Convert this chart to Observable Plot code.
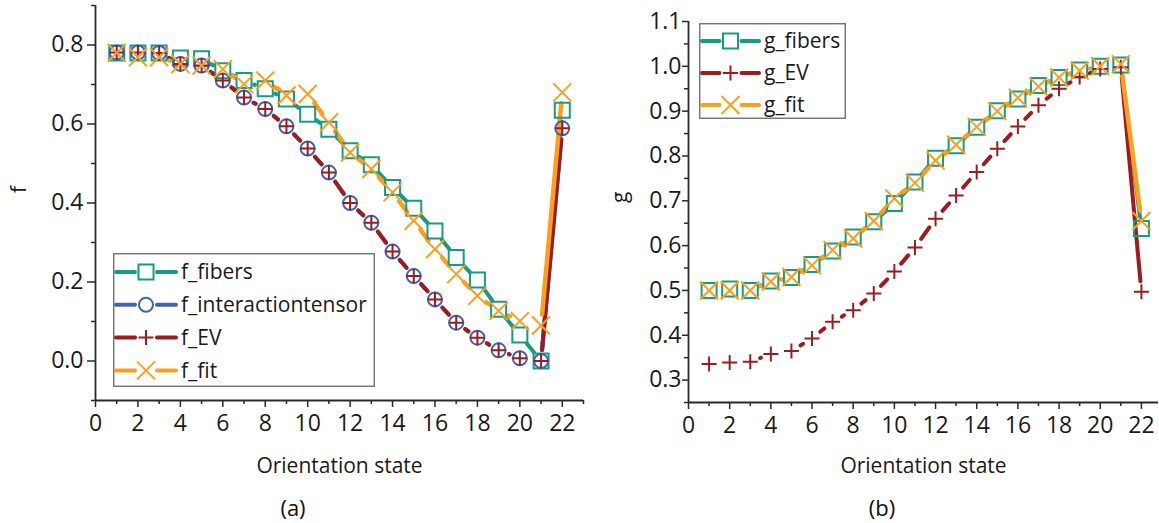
<!DOCTYPE html>
<html><head><meta charset="utf-8">
<script src="https://cdn.jsdelivr.net/npm/d3@7"></script>
<script src="https://cdn.jsdelivr.net/npm/@observablehq/plot@0.6"></script>
<style>
body{margin:0;background:#fff;font-family:"Open Sans",sans-serif;}
#wrap{position:relative;width:1159px;height:523px;overflow:hidden;background:#fff;}
.panel{position:absolute;top:0;}
.panel svg text{font-size:23px !important;font-family:"Open Sans",sans-serif !important;}
.panel svg g.ttl text{font-size:21px !important;}
.cap{position:absolute;font-size:22px;color:#111;transform:translate(-50%,-50%);line-height:1;}
.legend{position:absolute;}
</style></head><body><div id="wrap"></div>
<script>
// ---- data ----
const states = [1,2,3,4,5,6,7,8,9,10,11,12,13,14,15,16,17,18,19,20,21,22];
const f_fibers = [0.780,0.780,0.780,0.767,0.765,0.735,0.710,0.689,0.663,0.625,0.587,0.532,0.497,0.439,0.387,0.329,0.262,0.205,0.131,0.066,0.000,0.635];
const f_interactiontensor = [0.781,0.781,0.780,0.752,0.748,0.710,0.667,0.638,0.594,0.538,0.477,0.400,0.350,0.277,0.215,0.156,0.097,0.059,0.027,0.007,0.000,0.589];
const f_EV = [0.781,0.781,0.780,0.752,0.748,0.710,0.667,0.638,0.594,0.538,0.477,0.400,0.350,0.277,0.215,0.156,0.097,0.059,0.027,0.007,0.000,0.589];
const f_fit = [0.780,0.769,0.769,0.752,0.748,0.739,0.701,0.710,0.672,0.676,0.604,0.528,0.486,0.427,0.355,0.283,0.220,0.165,0.127,0.101,0.090,0.680];
const g_fibers = [0.500,0.503,0.500,0.521,0.529,0.558,0.588,0.619,0.653,0.694,0.742,0.795,0.823,0.864,0.901,0.927,0.957,0.975,0.992,1.000,1.003,0.638];
const g_EV = [0.336,0.339,0.341,0.358,0.365,0.393,0.430,0.456,0.493,0.542,0.596,0.660,0.712,0.764,0.816,0.866,0.913,0.950,0.976,0.994,0.998,0.497];
const g_fit = [0.500,0.500,0.500,0.520,0.530,0.556,0.590,0.616,0.655,0.705,0.740,0.790,0.825,0.865,0.900,0.930,0.955,0.975,0.990,1.000,1.005,0.655];
const xTicks = [0,2,4,6,8,10,12,14,16,18,20,22];
const xMinorL = [1,3,5,7,9,11,13,15,17,19,21,23];
const xMinorR = [1,3,5,7,9,11,13,15,17,19,21];
const fTicks = [0.0,0.2,0.4,0.6,0.8];
const fMinor = [-0.1,0.1,0.3,0.5,0.7,0.9];
const gTicks = [0.3,0.4,0.5,0.6,0.7,0.8,0.9,1.0,1.1];
const gMinor = [0.25,0.35,0.45,0.55,0.65,0.75,0.85,0.95,1.05];
const xTitle = "Orientation state";
const leftSeries = ["f_fibers","f_interactiontensor","f_EV","f_fit"];
const rightSeries = ["g_fibers","g_EV","g_fit"];

const C = {teal:"#179c83", blue:"#4463ae", red:"#9c1c21", orange:"#fd9e1c"};
const AX = "#2a2a2a";
const TXT = "#1a1a1a";

// ---- symbols ----
const SQ = {draw(c){ c.rect(-7.5,-7.5,15,15); }};
const CI = {draw(c){ c.moveTo(7,0); c.arc(0,0,7,0,2*Math.PI); }};
const PL = {draw(c){ c.moveTo(-7.5,0); c.lineTo(7.5,0); c.moveTo(0,-7.5); c.lineTo(0,7.5); }};
const TI = {draw(c){ c.moveTo(-9,-9); c.lineTo(9,9); c.moveTo(-9,9); c.lineTo(9,-9); }};

function segs(ys){ const o=[]; for(let i=0;i<states.length-1;i++) o.push({x1:states[i],y1:ys[i],x2:states[i+1],y2:ys[i+1]}); return o; }
function pts(ys){ return states.map((x,i)=>({x, y:ys[i]})); }
function line(ys,color,inset,w=4){ return Plot.arrow(segs(ys),{x1:"x1",y1:"y1",x2:"x2",y2:"y2",stroke:color,strokeWidth:w,headLength:0,inset,strokeLinecap:"round"}); }
function marks(ys,color,sym){ return Plot.dot(pts(ys),{x:"x",y:"y",symbol:()=>sym,stroke:color,fill:"none",strokeWidth:2}); }

function axes(o){
  return [
    Plot.axisX({ticks:xTicks,tickSize:7,tickPadding:7,stroke:AX,strokeWidth:1.5,fill:TXT,label:null}),
    Plot.axisX({ticks:o.xMinor,tickSize:4,text:null,label:null,stroke:AX,strokeWidth:1.5}),
    Plot.axisY({ticks:o.yTicks,tickSize:o.ytick,tickPadding:o.ypad,tickFormat:d3.format(".1f"),stroke:AX,strokeWidth:1.5,fill:TXT,label:null}),
    Plot.axisY({ticks:o.yMinor,tickSize:4,text:null,label:null,stroke:AX,strokeWidth:1.5}),
    Plot.ruleX([o.x0],{stroke:AX,strokeWidth:1.8}),
    Plot.ruleY([o.y0],{stroke:AX,strokeWidth:1.8}),
    Plot.text([o.ylabel],{text:d=>d,frameAnchor:"left",dx:o.ylx,dy:o.yly,rotate:-90,fill:TXT,className:"ttl"}),
    Plot.text([xTitle],{text:d=>d,frameAnchor:"bottom",dy:o.xly,fill:TXT,className:"ttl"})
  ];
}

const style = {fontFamily:"'Open Sans', sans-serif",fontSize:"22px",color:TXT,background:"transparent",overflow:"visible"};

const left = Plot.plot({
  width:600,height:523,marginLeft:95,marginRight:17,marginTop:5,marginBottom:123,
  x:{domain:[0,23]}, y:{domain:[-0.1,0.9]}, style,
  marks:[
    ...axes({x0:0,y0:-0.1,xMinor:xMinorL,yTicks:fTicks,yMinor:fMinor,ytick:8,ypad:4,ylabel:"f",ylx:-76,yly:-10,xly:72}),
    line(f_fibers,C.teal,11),
    line(f_interactiontensor,C.blue,11),
    line(f_EV,C.red,11),
    line(f_fit,C.orange,11,4.5),
    marks(f_fibers,C.teal,SQ),
    marks(f_interactiontensor,C.blue,CI),
    marks(f_EV,C.red,PL),
    marks(f_fit,C.orange,TI)
  ]
});
const right = Plot.plot({
  width:559,height:523,marginLeft:88,marginRight:1,marginTop:21,marginBottom:121,
  x:{domain:[0,22.83]}, y:{domain:[0.25,1.1]}, style,
  marks:[
    ...axes({x0:0,y0:0.25,xMinor:xMinorR,yTicks:gTicks,yMinor:gMinor,ytick:6,ypad:1,ylabel:"g",ylx:-68,yly:-9,xly:70}),
    line(g_fibers,C.teal,10.5),
    line(g_EV,C.red,10.5),
    line(g_fit,C.orange,10.5,4.5),
    marks(g_fibers,C.teal,SQ),
    marks(g_EV,C.red,PL),
    marks(g_fit,C.orange,TI)
  ]
});

const wrap = document.getElementById("wrap");
function panel(node,x){ const d=document.createElement("div"); d.className="panel"; d.style.left=x+"px"; d.appendChild(node); wrap.appendChild(d); }
panel(left,0); panel(right,600);

function caption(t,x,y){ const d=document.createElement("div"); d.className="cap"; d.textContent=t; d.style.left=x+"px"; d.style.top=y+"px"; wrap.appendChild(d); }
caption("(a)",293,507); caption("(b)",882,507);

// ---- legends ----
const legendSym = {f_fibers:[C.teal,SQ], f_interactiontensor:[C.blue,CI], f_EV:[C.red,PL], f_fit:[C.orange,TI],
                   g_fibers:[C.teal,SQ], g_EV:[C.red,PL], g_fit:[C.orange,TI]};
function legend(names,x,y,w,h,row0,step,lineW){
  const svg = d3.create("svg").attr("width",w).attr("height",h).attr("class","legend")
    .style("left",x+"px").style("top",y+"px").style("font-family","'Open Sans', sans-serif");
  svg.append("rect").attr("x",0.75).attr("y",0.75).attr("width",w-1.5).attr("height",h-1.5).attr("fill","#fff").attr("stroke","#666").attr("stroke-width",1.3);
  names.forEach((n,i)=>{
    const [col,sym] = legendSym[n];
    const cy = row0 + i*step, cx = lineW/2 + 1;
    const g = svg.append("g");
    g.append("line").attr("x1",3).attr("x2",cx-11).attr("y1",cy).attr("y2",cy).attr("stroke",col).attr("stroke-width",4).attr("stroke-linecap","round");
    g.append("line").attr("x1",cx+11).attr("x2",lineW-1).attr("y1",cy).attr("y2",cy).attr("stroke",col).attr("stroke-width",4).attr("stroke-linecap","round");
    const p = d3.path(); sym.draw(p);
    g.append("path").attr("d",p.toString()).attr("transform",`translate(${cx},${cy})`).attr("fill","none").attr("stroke",col).attr("stroke-width",2);
    g.append("text").attr("x",lineW+4).attr("y",cy).attr("dy","0.35em").attr("font-size",21).attr("fill",TXT).text(n);
  });
  wrap.appendChild(svg.node());
}
legend(leftSeries,113,253,262,134,19,32.8,64);
legend(rightSeries,699,23,147,96,18,32,61);
</script></body></html>
